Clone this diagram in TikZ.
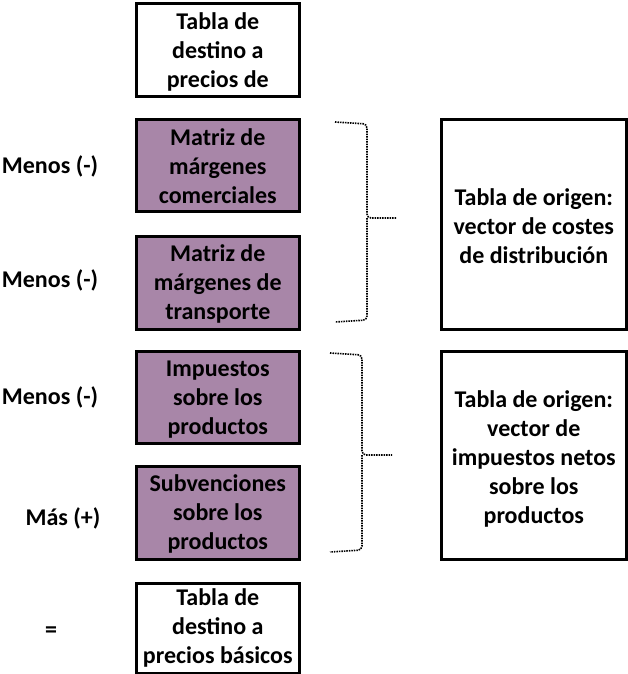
\documentclass[tikz,border=0pt]{standalone}
\usepackage{fontspec}
\setmainfont{Carlito}
\definecolor{boxpurple}{RGB}{168,134,168}
\begin{document}
\begin{tikzpicture}[x=1pt,y=-1pt,
  txt/.style={font=\bfseries\fontsize{24}{29}\selectfont, align=center, inner sep=0pt},
  bx/.style={draw=black, line width=2.6pt, minimum width=163pt, inner sep=0pt, anchor=north west},
  pbox/.style={bx, fill=boxpurple},
  wbox/.style={bx, fill=white},
  brace/.style={draw=black, line width=1.6pt, dash pattern=on 1.5pt off 1pt, rounded corners=4pt}
]
\useasboundingbox (0,0) rectangle (628,674);
% left column boxes
\node[wbox, minimum height=93pt] (t0) at (135,2) {};
\node[pbox, minimum height=92pt] (p1) at (135,118) {};
\node[pbox, minimum height=93pt] (p2) at (135,235) {};
\node[pbox, minimum height=92pt] (p3) at (135,350) {};
\node[pbox, minimum height=93pt] (p4) at (135,465) {};
\node[wbox, minimum height=90pt] (t1) at (135,582) {};
% right boxes
\node[wbox, minimum width=185pt, minimum height=210pt] (r1) at (440,118) {};
\node[wbox, minimum width=185pt, minimum height=208pt] (r2) at (440,350) {};
% box texts
\node[txt] (t0t) at ([yshift=-2pt]t0.center) {Tabla de\\destino a\\precios de};
\node[txt] (p1t) at ([yshift=-1pt]p1.center) {Matriz de\\márgenes\\comerciales};
\node[txt] (p2t) at ([yshift=-1pt]p2.center) {Matriz de\\márgenes de\\transporte};
\node[txt] (p3t) at ([yshift=-2pt]p3.center) {Impuestos\\sobre los\\productos};
\node[txt] (p4t) at ([yshift=-1pt]p4.center) {Subvenciones\\sobre los\\productos};
\node[txt] (t1t) at ([yshift=0pt]t1.center) {Tabla de\\destino a\\precios básicos};
\node[txt] (r1t) at ([yshift=-2pt]r1.center) {Tabla de origen:\\vector de costes\\de distribución};
\node[txt] (r2t) at ([yshift=-4pt]r2.center) {Tabla de origen:\\vector de\\impuestos netos\\sobre los\\productos};
% side labels
\node[txt] (l1) at (50,166) {Menos (-)};
\node[txt] (l2) at (50,280) {Menos (-)};
\node[txt] (l3) at (50,397) {Menos (-)};
\node[txt] (l4) at (63,518) {Más (+)};
\node[txt] (l5) at (51,632) {=};
% braces
\coordinate (b1a) at (335,122);
\coordinate (b1m) at (397,218);
\coordinate (b1b) at (335,322);
\draw[brace] (b1a) -- (367,124) -- (367,218) -- (b1m);
\draw[brace] (367,218) -- (367,320) -- (b1b);
\coordinate (b2a) at (330,353);
\coordinate (b2m) at (392,455);
\coordinate (b2b) at (330,552);
\draw[brace] (b2a) -- (362,355) -- (362,455) -- (b2m);
\draw[brace] (362,455) -- (362,550) -- (b2b);
\end{tikzpicture}
\end{document}
